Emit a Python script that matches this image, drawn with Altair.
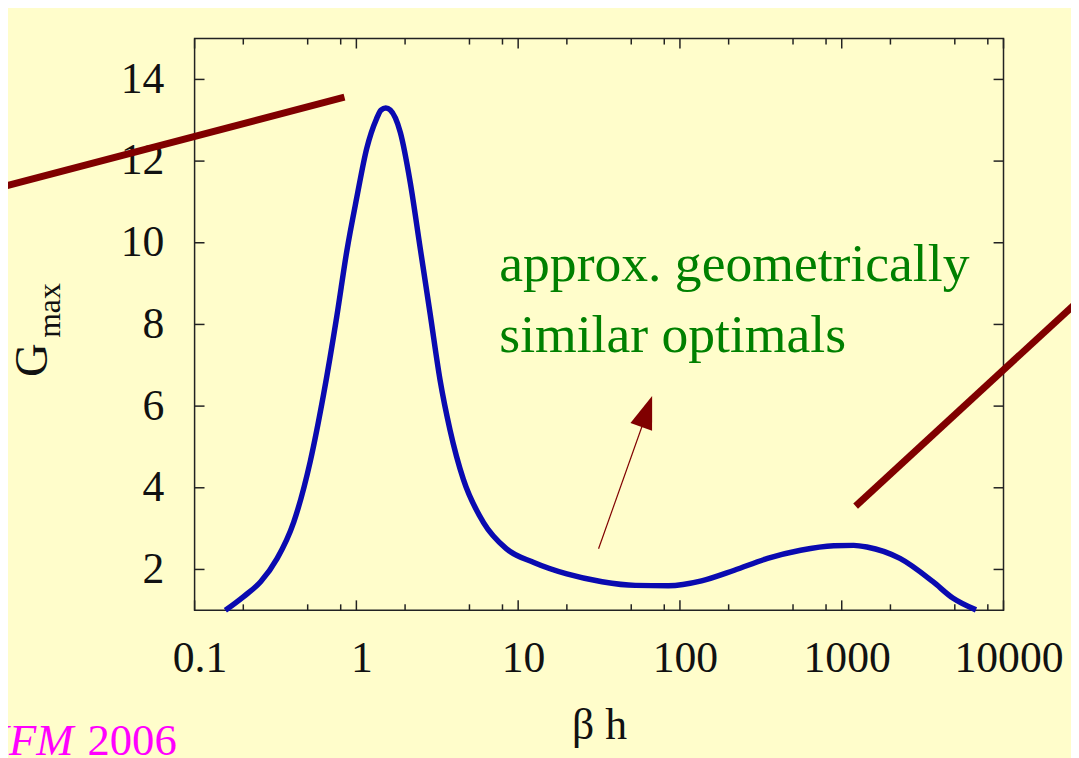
import altair as alt
import pandas as pd

# ---- data ----
beta_h = [0.155, 0.2, 0.256, 0.324, 0.41, 0.519, 0.628, 0.757, 0.873, 1.005, 1.157, 1.33,
          1.42, 1.52, 1.62, 1.87, 2.15, 2.48, 2.86, 3.29, 3.79, 4.58, 6.08, 8.44, 12.5,
          20, 33, 53, 85, 136, 217, 348, 557, 893, 1185, 1430, 2290, 3664, 4860, 6760]
g_max = [1.0, 1.33, 1.70, 2.27, 3.16, 4.65, 6.3, 8.2, 9.8, 11.1, 12.3, 13.03,
         13.25, 13.30, 13.25, 12.70, 11.49, 9.87, 8.25, 6.64, 5.42, 4.21, 3.16, 2.51, 2.17,
         1.89, 1.70, 1.61, 1.60, 1.72, 1.98, 2.27, 2.47, 2.58, 2.59, 2.55, 2.27, 1.70, 1.30, 1.01]

x_major = [0.1, 1, 10, 100, 1000, 10000]
x_minor = [0.2, 0.5, 0.8, 2, 5, 8, 20, 50, 80, 200, 500, 800, 2000, 5000, 8000]
y_ticks = [2, 4, 6, 8, 10, 12, 14]

note_lines = ["approx. geometrically", "similar optimals"]
x_title = "β h"
y_title_main = "G"
y_title_sub = "max"
ref_journal = "JFM"
ref_year = "2006"

# ---- styles ----
W, H = 815, 576
BG = "#FFFDCB"
BLUE = "#0A0AB0"
RED = "#800000"
GREEN = "#008000"
MAGENTA = "#FF00FF"
AX = "#222222"
FONT = "Liberation Serif"

xs = alt.Scale(type="log", domain=[0.1, 10000], nice=False)
ys = alt.Scale(domain=[1, 15], nice=False, zero=False)

x_axis = alt.Axis(
    values=x_major, format="~g", title=None, ticks=False, tickSize=0, domain=False,
    grid=False, labelPadding=27, labelFlush=False, labelOffset=5, labelFont=FONT,
    labelFontSize=44, labelColor="#111111")
y_axis = alt.Axis(
    values=y_ticks, title=None, ticks=False, tickSize=0, domain=False, grid=False,
    labelPadding=31, labelFont=FONT, labelFontSize=44, labelColor="#111111")

curve = alt.Chart(pd.DataFrame({"bh": beta_h, "g": g_max})).mark_line(
    color=BLUE, strokeWidth=5.5, interpolate="monotone"
).encode(
    x=alt.X("bh:Q", scale=xs, axis=x_axis),
    y=alt.Y("g:Q", scale=ys, axis=y_axis),
)


def xticks(vals, y0, y1):
    return alt.Chart(pd.DataFrame({"bh": vals})).mark_rule(color=AX, strokeWidth=1.5).encode(
        x=alt.X("bh:Q", scale=xs, axis=x_axis), y=alt.value(y0), y2=alt.value(y1))


def yticks(vals, x0, x1):
    return alt.Chart(pd.DataFrame({"g": vals})).mark_rule(color=AX, strokeWidth=1.5).encode(
        y=alt.Y("g:Q", scale=ys, axis=y_axis), x=alt.value(x0), x2=alt.value(x1))


ticks = [
    xticks(x_major, H, H - 10), xticks(x_minor, H, H - 6),
    xticks(x_major, 0, 10), xticks(x_minor, 0, 6),
    yticks(y_ticks, 0, 10), yticks(y_ticks, W, W - 10),
]


def seg(x0, y0, x1, y1, width):
    return alt.Chart(pd.DataFrame({"k": [0]})).mark_rule(
        color=RED, strokeWidth=width, strokeCap="butt").encode(
        x=alt.value(x0), y=alt.value(y0), x2=alt.value(x1), y2=alt.value(y1))


def txt(s, x, y, size, color, align="left", angle=0, style="normal"):
    return alt.Chart(pd.DataFrame({"t": [s]})).mark_text(
        font=FONT, fontSize=size, color=color, align=align, baseline="alphabetic",
        angle=angle, fontStyle=style).encode(
        text="t:N", x=alt.value(x), y=alt.value(y))


arrow_head = alt.Chart(pd.DataFrame({"k": [0]})).mark_point(
    shape="M0,-1L0.7,1L-0.7,1Z", size=1089, filled=True, color=RED, opacity=1,
    angle=19.3, strokeWidth=0).encode(x=alt.value(455.5), y=alt.value(375.6))

annotations = [
    seg(-196, 150, 151, 59, 7),
    seg(666, 471, 894, 261, 7),
    seg(407, 514, 456, 376, 1.2),
    arrow_head,
    txt(note_lines[0], 307, 244, 54, GREEN),
    txt(note_lines[1], 307, 316, 54, GREEN),
    txt(x_title, 408, 706, 44, "#111111", align="center"),
    txt(y_title_main, -149, 324, 47, "#111111", align="center", angle=270),
    txt(y_title_sub, -136, 274, 32, "#111111", align="center", angle=270),
    txt(ref_journal, -122, 722, 45, MAGENTA, align="right", style="italic"),
    txt(ref_year, -108, 722, 45, MAGENTA, align="left"),
]

chart = alt.layer(curve, *ticks, *annotations).properties(
    width=W, height=H,
    autosize=alt.AutoSizeParams(type="none"),
    padding={"left": 188, "top": 28, "right": 68, "bottom": 146},
    background=BG,
).configure_view(stroke=AX, strokeWidth=1.5)

chart.save("out.html", embed_options={"renderer": "svg", "actions": False})
